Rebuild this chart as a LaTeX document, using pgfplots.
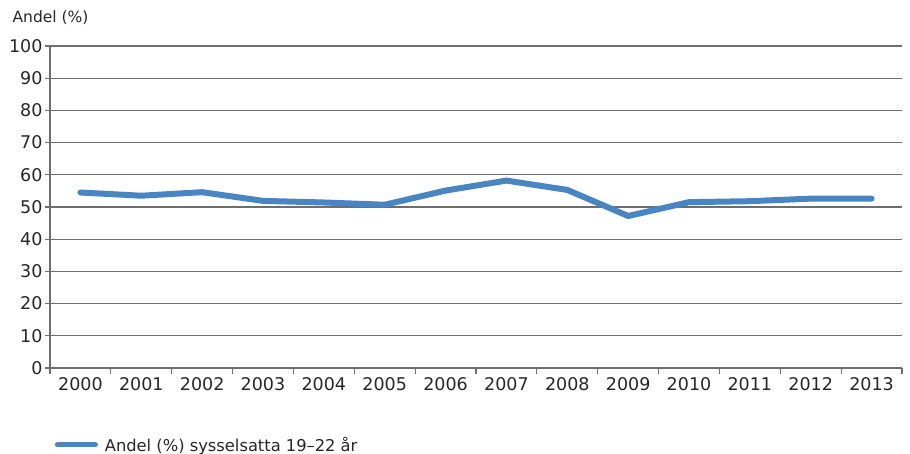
\documentclass[border=0pt]{standalone}
\usepackage{pgfplots}
\pgfplotsset{compat=1.18}
\usepackage{fontspec}
\setmainfont{DejaVu Sans}
\definecolor{lineblue}{RGB}{72,133,194}
\definecolor{gridgray}{RGB}{110,110,110}
\begin{document}
\begin{tikzpicture}[x=1bp,y=1bp]
\useasboundingbox (0,0) rectangle (910,454);
\begin{axis}[
  at={(50bp,86bp)}, anchor=south west,
  scale only axis, width=852bp, height=322bp,
  xmin=-0.5, xmax=13.5, ymin=0, ymax=100,
  axis x line*=bottom, axis y line*=left,
  axis line style={-, gridgray, line width=1.2bp},
  xtick={0,...,13},
  xticklabels={2000,2001,2002,2003,2004,2005,2006,2007,2008,2009,2010,2011,2012,2013},
  minor xtick={-0.5,0.5,...,13.5},
  major x tick style={draw=none},
  minor x tick style={gridgray, line width=1.2bp},
  minor tick length=6bp,
  ytick={0,10,...,100},
  ymajorgrids, grid style={gridgray, line width=1.2bp},
  major y tick style={gridgray, line width=1.2bp},
  major tick length=5bp,
  tick align=outside,
  ticklabel style={font=\fontsize{17.5bp}{19bp}\selectfont, text=black!85},
  /pgf/number format/assume math mode=true,
  xticklabel style={yshift=-1bp},
  yticklabel style={xshift=1bp},
  legend style={at={(0.002,-0.238)}, anchor=west, draw=none, fill=none,
    font=\fontsize{16.3bp}{18bp}\selectfont, text=black!85,
    /tikz/every even column/.append style={column sep=0bp}},
  legend image code/.code={\draw[#1, line width=5bp, line cap=round] (0bp,0bp) -- (38bp,0bp);},
  legend cell align=left,
  clip=false,
]
\addplot[lineblue, line width=6bp, line cap=round, line join=round] coordinates {
(0,54.5) (1,53.5) (2,54.6) (3,51.9) (4,51.4) (5,50.7) (6,55.1) (7,58.2) (8,55.3) (9,47.2) (10,51.5) (11,51.8) (12,52.6) (13,52.6)
};
\addlegendentry{\hspace{5bp}Andel (\%) sysselsatta 19–22 år}
\node[anchor=west, font=\fontsize{15.5bp}{18bp}\selectfont, text=black!85] at (rel axis cs:-0.048,1.087) {Andel (\%)};
\end{axis}
\end{tikzpicture}
\end{document}
